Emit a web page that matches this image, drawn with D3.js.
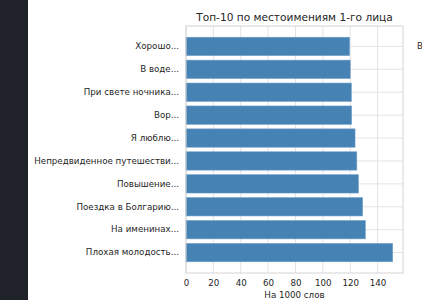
<!DOCTYPE html>
<html lang="ru">
<head>
<meta charset="UTF-8">
<title>Топ-10 по местоимениям 1-го лица</title>
<script src="https://d3js.org/d3.v7.min.js"></script>
<style>
  body { margin: 0; background: #fff; }
  text { font-family: "DejaVu Sans", sans-serif; fill: #262626; }
</style>
</head>
<body>
<svg id="chart" width="422" height="300"></svg>
<script>
  // stories and first-person pronouns per 1000 words
  const titles = [
    "Хорошо...", "В воде...", "При свете ночника...", "Вор...", "Я люблю...",
    "Непредвиденное путешестви...", "Повышение...", "Поездка в Болгарию...",
    "На именинах...", "Плохая молодость..."
  ];
  const perThousand = [119.5, 120, 120.8, 121, 123.5, 124.8, 126, 129, 131, 151];
  const xTicks = [0, 20, 40, 60, 80, 100, 120, 140];

  const svg = d3.select("#chart");

  // dark strip on the left
  svg.append("rect").attr("x", 0).attr("y", 0).attr("width", 28).attr("height", 300)
    .attr("fill", "#1f2229");

  const plotL = 186, plotR = 403, plotT = 26, plotB = 273;

  const x = d3.scaleLinear()
    .domain([0, d3.max(perThousand) * 1.05])
    .range([plotL, plotR]);

  const y = d3.scaleBand()
    .domain(titles)
    .range([plotT, plotB])
    .paddingInner(0.2)
    .paddingOuter(0.49);

  // grid
  svg.append("g")
    .selectAll("line")
    .data(xTicks)
    .join("line")
    .attr("x1", d => x(d)).attr("x2", d => x(d))
    .attr("y1", plotT).attr("y2", plotB)
    .attr("stroke", "#e3e3e3").attr("stroke-width", 1);

  svg.append("g")
    .selectAll("line")
    .data(titles)
    .join("line")
    .attr("x1", plotL).attr("x2", plotR)
    .attr("y1", d => y(d) + y.bandwidth() / 2).attr("y2", d => y(d) + y.bandwidth() / 2)
    .attr("stroke", "#e3e3e3").attr("stroke-width", 1);

  // bars
  svg.append("g")
    .selectAll("rect")
    .data(perThousand)
    .join("rect")
    .attr("x", x(0))
    .attr("y", (d, i) => y(titles[i]))
    .attr("width", d => x(d) - x(0))
    .attr("height", y.bandwidth())
    .attr("fill", "#4682b4")
    .attr("stroke", "#6f9dc6")
    .attr("stroke-width", 0.6);

  // frame
  svg.append("rect")
    .attr("x", plotL).attr("y", plotT)
    .attr("width", plotR - plotL).attr("height", plotB - plotT)
    .attr("fill", "none").attr("stroke", "#d4d4d4").attr("stroke-width", 1);

  // axes (labels only)
  const xAxis = svg.append("g")
    .attr("transform", `translate(0,${plotB})`)
    .call(d3.axisBottom(x).tickValues(xTicks).tickSize(0).tickPadding(6.5));
  xAxis.select(".domain").remove();
  xAxis.selectAll("text").attr("font-size", 8.7).style("font-family", "DejaVu Sans").attr("fill", "#262626");

  const yAxis = svg.append("g")
    .attr("transform", `translate(${plotL},0)`)
    .call(d3.axisLeft(y).tickSize(0).tickPadding(7));
  yAxis.select(".domain").remove();
  yAxis.selectAll("text").attr("font-size", 8.7).style("font-family", "DejaVu Sans").attr("fill", "#262626");

  // title and axis label
  svg.append("text")
    .attr("x", (plotL + plotR) / 2).attr("y", 20.5)
    .attr("text-anchor", "middle")
    .attr("font-size", 10.6)
    .text("Топ-10 по местоимениям 1-го лица");

  svg.append("text")
    .attr("x", (plotL + plotR) / 2).attr("y", 297.5)
    .attr("text-anchor", "middle")
    .attr("font-size", 8.7)
    .text("На 1000 слов");

  // cut-off text of the neighbouring panel
  svg.append("text")
    .attr("x", 417).attr("y", 49)
    .attr("font-size", 8.7)
    .text("В");
</script>
</body>
</html>
